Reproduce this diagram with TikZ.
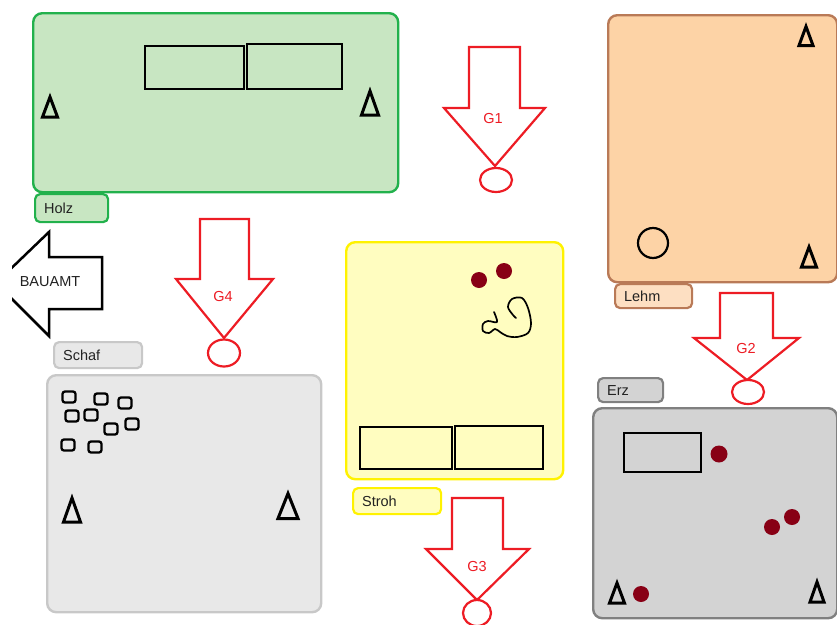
\documentclass[tikz,border=0pt]{standalone}
\usepackage{fontspec}
\setmainfont{Liberation Sans}
\usetikzlibrary{shapes.geometric}
\definecolor{greenB}{HTML}{22B14C}
\definecolor{greenF}{HTML}{C8E6C2}
\definecolor{lehmB}{HTML}{B97A57}
\definecolor{lehmF}{HTML}{FDD3A6}
\definecolor{lehmL}{HTML}{FDDFC2}
\definecolor{yelB}{HTML}{FFF200}
\definecolor{yelF}{HTML}{FFFDC0}
\definecolor{schafB}{HTML}{C8C8C8}
\definecolor{schafF}{HTML}{E8E8E8}
\definecolor{erzB}{HTML}{808080}
\definecolor{erzF}{HTML}{D3D3D3}
\definecolor{arrred}{HTML}{ED1C24}
\definecolor{dotred}{HTML}{880015}
\definecolor{txt}{HTML}{222222}
\newcommand{\deltamark}[4]{\draw[trimark] (#1,#2) ++(0,-#4/2) -- ++(#3/2,#4) -- ++(-#3,0) -- cycle;}
\newcommand{\sheep}[2]{\draw[sheepbox] (#1-6.5,#2-5.5) rectangle (#1+6.5,#2+5.5);}
\begin{document}
\begin{tikzpicture}[x=1pt,y=-1pt,
  bigbox/.style={draw, rounded corners=9pt, line width=2.4pt, inner sep=0pt, anchor=north west},
  tag/.style={draw, rounded corners=5pt, line width=2.2pt, inner xsep=9pt, inner ysep=0pt, anchor=north west, font=\fontsize{14.5}{16}\selectfont, text=txt},
  field/.style={draw=black, line width=2.7pt},
  trimark/.style={draw=black, line width=3pt, line join=miter},
  sheepbox/.style={draw=black, line width=2.3pt, rounded corners=2.5pt},
  redarrow/.style={draw=arrred, line width=2.2pt, fill=white, line join=miter},
  gtext/.style={text=arrred, font=\fontsize{14.5}{16}\selectfont, inner sep=0pt},
  redell/.style={ellipse, draw=arrred, line width=2.2pt, fill=white, inner sep=0pt},
  rdot/.style={fill=dotred}
]
\useasboundingbox (0,0) rectangle (837,624);

% ---------- Holz ----------
\node[bigbox, draw=greenB, fill=greenF, minimum width=365pt, minimum height=179pt] (holz) at (32,12) {};
\draw[field] (145,46) rectangle (244,89);
\draw[field] (247,44) rectangle (342,89);
\deltamark{50}{107}{15}{20}
\deltamark{370}{103}{17}{24}
\node[tag, draw=greenB, fill=greenF, minimum width=73pt, minimum height=28pt, text width=55pt] (holzlab) at (34,193) {Holz};

% ---------- Lehm ----------
\node[bigbox, draw=lehmB, fill=lehmF, minimum width=229pt, minimum height=267pt] (lehm) at (607,14) {};
\deltamark{806}{36}{14}{19}
\deltamark{809}{257}{15}{20}
\draw[black, line width=2.2pt] (653,243) circle (15);
\node[tag, draw=lehmB, fill=lehmL, minimum width=77pt, minimum height=24pt, text width=59pt] (lehmlab) at (614,283) {Lehm};

% ---------- Stroh ----------
\node[bigbox, draw=yelB, fill=yelF, minimum width=217pt, minimum height=237pt] (stroh) at (345,241) {};
\draw[field] (360,427) rectangle (452,469);
\draw[field] (455,426) rectangle (543,469);
\fill[rdot] (479,280) circle (8);
\fill[rdot] (504,271) circle (8);
\draw[black, line width=1.7pt, line cap=round, line join=round] plot[smooth, tension=0.55] coordinates {(494,312) (497,322) (488,321) (483,324) (483,331) (489,333) (495,329) (500,332) (507,336) (517,337) (528,333) (531,323) (528,308) (522,298) (512,299) (508,307) (513,315) (516,318)};
\node[tag, draw=yelB, fill=yelF, minimum width=88pt, minimum height=26pt, text width=70pt] (strohlab) at (352,487) {Stroh};

% ---------- Schaf ----------
\node[tag, draw=schafB, fill=schafF, minimum width=88pt, minimum height=26pt, text width=70pt] (schaflab) at (53,341) {Schaf};
\node[bigbox, draw=schafB, fill=schafF, minimum width=274pt, minimum height=237pt] (schaf) at (46,374) {};
\sheep{69}{397}
\sheep{101}{399}
\sheep{125}{403}
\sheep{72}{416}
\sheep{91}{415}
\sheep{111}{429}
\sheep{132}{424}
\sheep{68}{445}
\sheep{95}{447}
\deltamark{72}{510}{17}{24}
\deltamark{288}{506}{20}{25}

% ---------- Erz ----------
\node[tag, draw=erzB, fill=erzF, minimum width=65pt, minimum height=24pt, text width=47pt] (erzlab) at (597,377) {Erz};
\node[bigbox, draw=erzB, fill=erzF, minimum width=244pt, minimum height=210pt] (erz) at (592,407) {};
\draw[field] (624,433) rectangle (701,472);
\fill[rdot] (719,454) circle (8.5);
\fill[rdot] (792,517) circle (8);
\fill[rdot] (772,527) circle (8);
\fill[rdot] (641,594) circle (8);
\deltamark{617}{593}{15}{20}
\deltamark{817}{592}{14}{20}

% ---------- BAUAMT ----------
\begin{scope}
\clip (12,0) rectangle (837,624);
\draw[draw=black, line width=2.5pt, fill=white, line join=miter] (102,257) -- (102,309) -- (49,309) -- (49,336) -- (-4,283) -- (49,232) -- (49,257) -- cycle;
\end{scope}
\node[font=\fontsize{14.5}{16}\selectfont, text=txt, inner sep=0pt] (bauamt) at (50,282) {BAUAMT};

% ---------- G1 ----------
\draw[redarrow] (469,47) -- (520,47) -- (520,108) -- (545,108) -- (495,166) -- (444,108) -- (469,108) -- cycle;
\node[gtext] (g1) at (493,119) {G1};
\node[redell, minimum width=32pt, minimum height=24pt] (e1) at (496,180) {};

% ---------- G4 ----------
\draw[redarrow] (200,219) -- (249,219) -- (249,279) -- (273,279) -- (224,338) -- (176,279) -- (200,279) -- cycle;
\node[gtext] (g4) at (223,297) {G4};
\node[redell, minimum width=32pt, minimum height=27pt] (e4) at (224,353) {};

% ---------- G2 ----------
\draw[redarrow] (720,293) -- (773,293) -- (773,338) -- (799,338) -- (747,380) -- (694,338) -- (720,338) -- cycle;
\node[gtext] (g2) at (746,349) {G2};
\node[redell, minimum width=32pt, minimum height=24pt] (e2) at (748,392) {};

% ---------- G3 ----------
\draw[redarrow] (452,498) -- (503,498) -- (503,549) -- (529,549) -- (477,600) -- (426,549) -- (452,549) -- cycle;
\node[gtext] (g3) at (477,566) {G3};
\node[redell, minimum width=28pt, minimum height=26pt] (e3) at (477,613) {};
\end{tikzpicture}
\end{document}
